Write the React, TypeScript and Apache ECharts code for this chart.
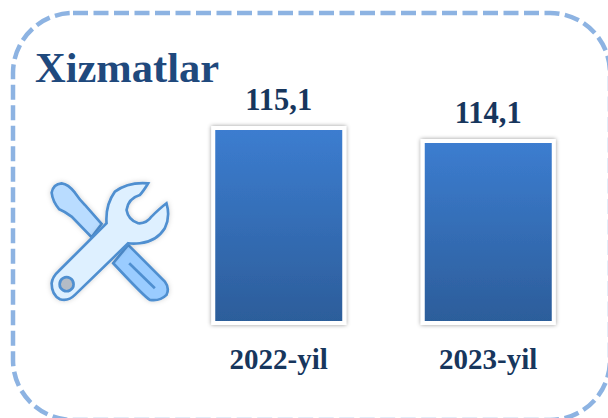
import React, { useEffect, useRef } from "react";
import * as echarts from "echarts";

const categories = ["2022-yil", "2023-yil"];
const values = [115.1, 114.1];
const valueLabels = ["115,1", "114,1"];
const titleText = "Xizmatlar";

const SERIF = "'Liberation Serif', serif";
const ICON_X = 0;
const ICON_Y = 160;
const ICON_S = 1 / 3;

const screwTop =
  "M155 98 Q160 72 185 70 Q205 72 225 98 Q240 120 255 135 L305 192 L275 232 L215 170 Q195 155 178 148 Q158 125 155 98 Z";
const screwBottom =
  "M385 255 L495 365 Q510 385 500 405 Q480 425 450 420 Q435 412 340 310 Z";
const screwLine = "M388 310 L465 385";
const wrench =
  "M320 190 Q316 135 345 95 Q385 65 445 70 Q430 95 420 105 Q385 115 380 150 Q385 180 415 190 Q440 192 455 170 Q480 145 500 130 Q512 170 495 205 Q470 245 420 250 Q400 252 385 250 L225 405 Q205 425 180 418 Q155 405 155 370 Q158 350 175 335 Z";

echarts.graphic.registerShape("screwTop", echarts.graphic.extendPath(screwTop, {}));
echarts.graphic.registerShape("screwBottom", echarts.graphic.extendPath(screwBottom, {}));
echarts.graphic.registerShape("screwLine", echarts.graphic.extendPath(screwLine, {}));
echarts.graphic.registerShape("wrench", echarts.graphic.extendPath(wrench, {}));

export default function App() {
  const ref = useRef<HTMLDivElement>(null);
  useEffect(() => {
    const chart = echarts.init(ref.current!, null, { renderer: "svg" });
    const iconStroke = "#4f8fd0";
    const iconPart = (type: string, fill: string) => ({
      type,
      x: 0,
      y: 0,
      style: {
        fill,
        stroke: iconStroke,
        lineWidth: 8,
        shadowBlur: 5,
        shadowColor: "rgba(0,0,0,0.18)",
      },
    });
    chart.setOption({
      animation: false,
      backgroundColor: "#ffffff",
      title: {
        text: titleText,
        left: 30,
        top: 41,
        textStyle: {
          fontFamily: SERIF,
          fontWeight: "bold",
          fontSize: 42.5,
          color: "#1f497d",
        },
      },
      grid: { left: 174, width: 419, top: 126, height: 197 },
      xAxis: {
        type: "category",
        data: categories,
        axisLine: { show: false },
        axisTick: { show: false },
        axisLabel: {
          margin: 21,
          fontFamily: SERIF,
          fontWeight: "bold",
          fontSize: 29,
          color: "#17365d",
        },
      },
      yAxis: { type: "value", min: 99.95, max: 115.1, show: false },
      series: [
        {
          type: "bar",
          data: values,
          barWidth: 135,
          itemStyle: {
            color: {
              type: "linear",
              x: 0,
              y: 0,
              x2: 0,
              y2: 1,
              colorStops: [
                { offset: 0, color: "#3c7dd0" },
                { offset: 1, color: "#2c5d9a" },
              ],
            },
            borderColor: "#ffffff",
            borderWidth: 4,
            shadowBlur: 4,
            shadowColor: "rgba(0,0,0,0.4)",
          },
          label: {
            show: true,
            position: "top",
            distance: 11,
            formatter: (p: { dataIndex: number }) => valueLabels[p.dataIndex],
            fontFamily: SERIF,
            fontWeight: "bold",
            fontSize: 30.5,
            color: "#17365d",
          },
        },
      ],
      graphic: [
        {
          type: "rect",
          silent: true,
          z: 10,
          shape: { x: 13, y: 13, width: 597, height: 407, r: 60 },
          style: {
            fill: "none",
            stroke: "#8db3e2",
            lineWidth: 4.5,
            lineDash: [15, 5.5],
          },
        },
        {
          type: "group",
          x: ICON_X,
          y: ICON_Y,
          scaleX: ICON_S,
          scaleY: ICON_S,
          children: [
            iconPart("screwTop", "#b9dcff"),
            iconPart("screwBottom", "#9accff"),
            {
              type: "screwLine",
              style: { fill: "none", stroke: iconStroke, lineWidth: 8 },
            },
            iconPart("wrench", "#def0ff"),
            {
              type: "circle",
              shape: { cx: 200, cy: 373, r: 21 },
              style: { fill: "#b4bcc6", stroke: iconStroke, lineWidth: 8 },
            },
          ],
        },
      ],
    });
    return () => chart.dispose();
  }, []);
  return (
    <div
      ref={ref}
      style={{ position: "fixed", left: 0, top: 0, width: 608, height: 418 }}
    />
  );
}
